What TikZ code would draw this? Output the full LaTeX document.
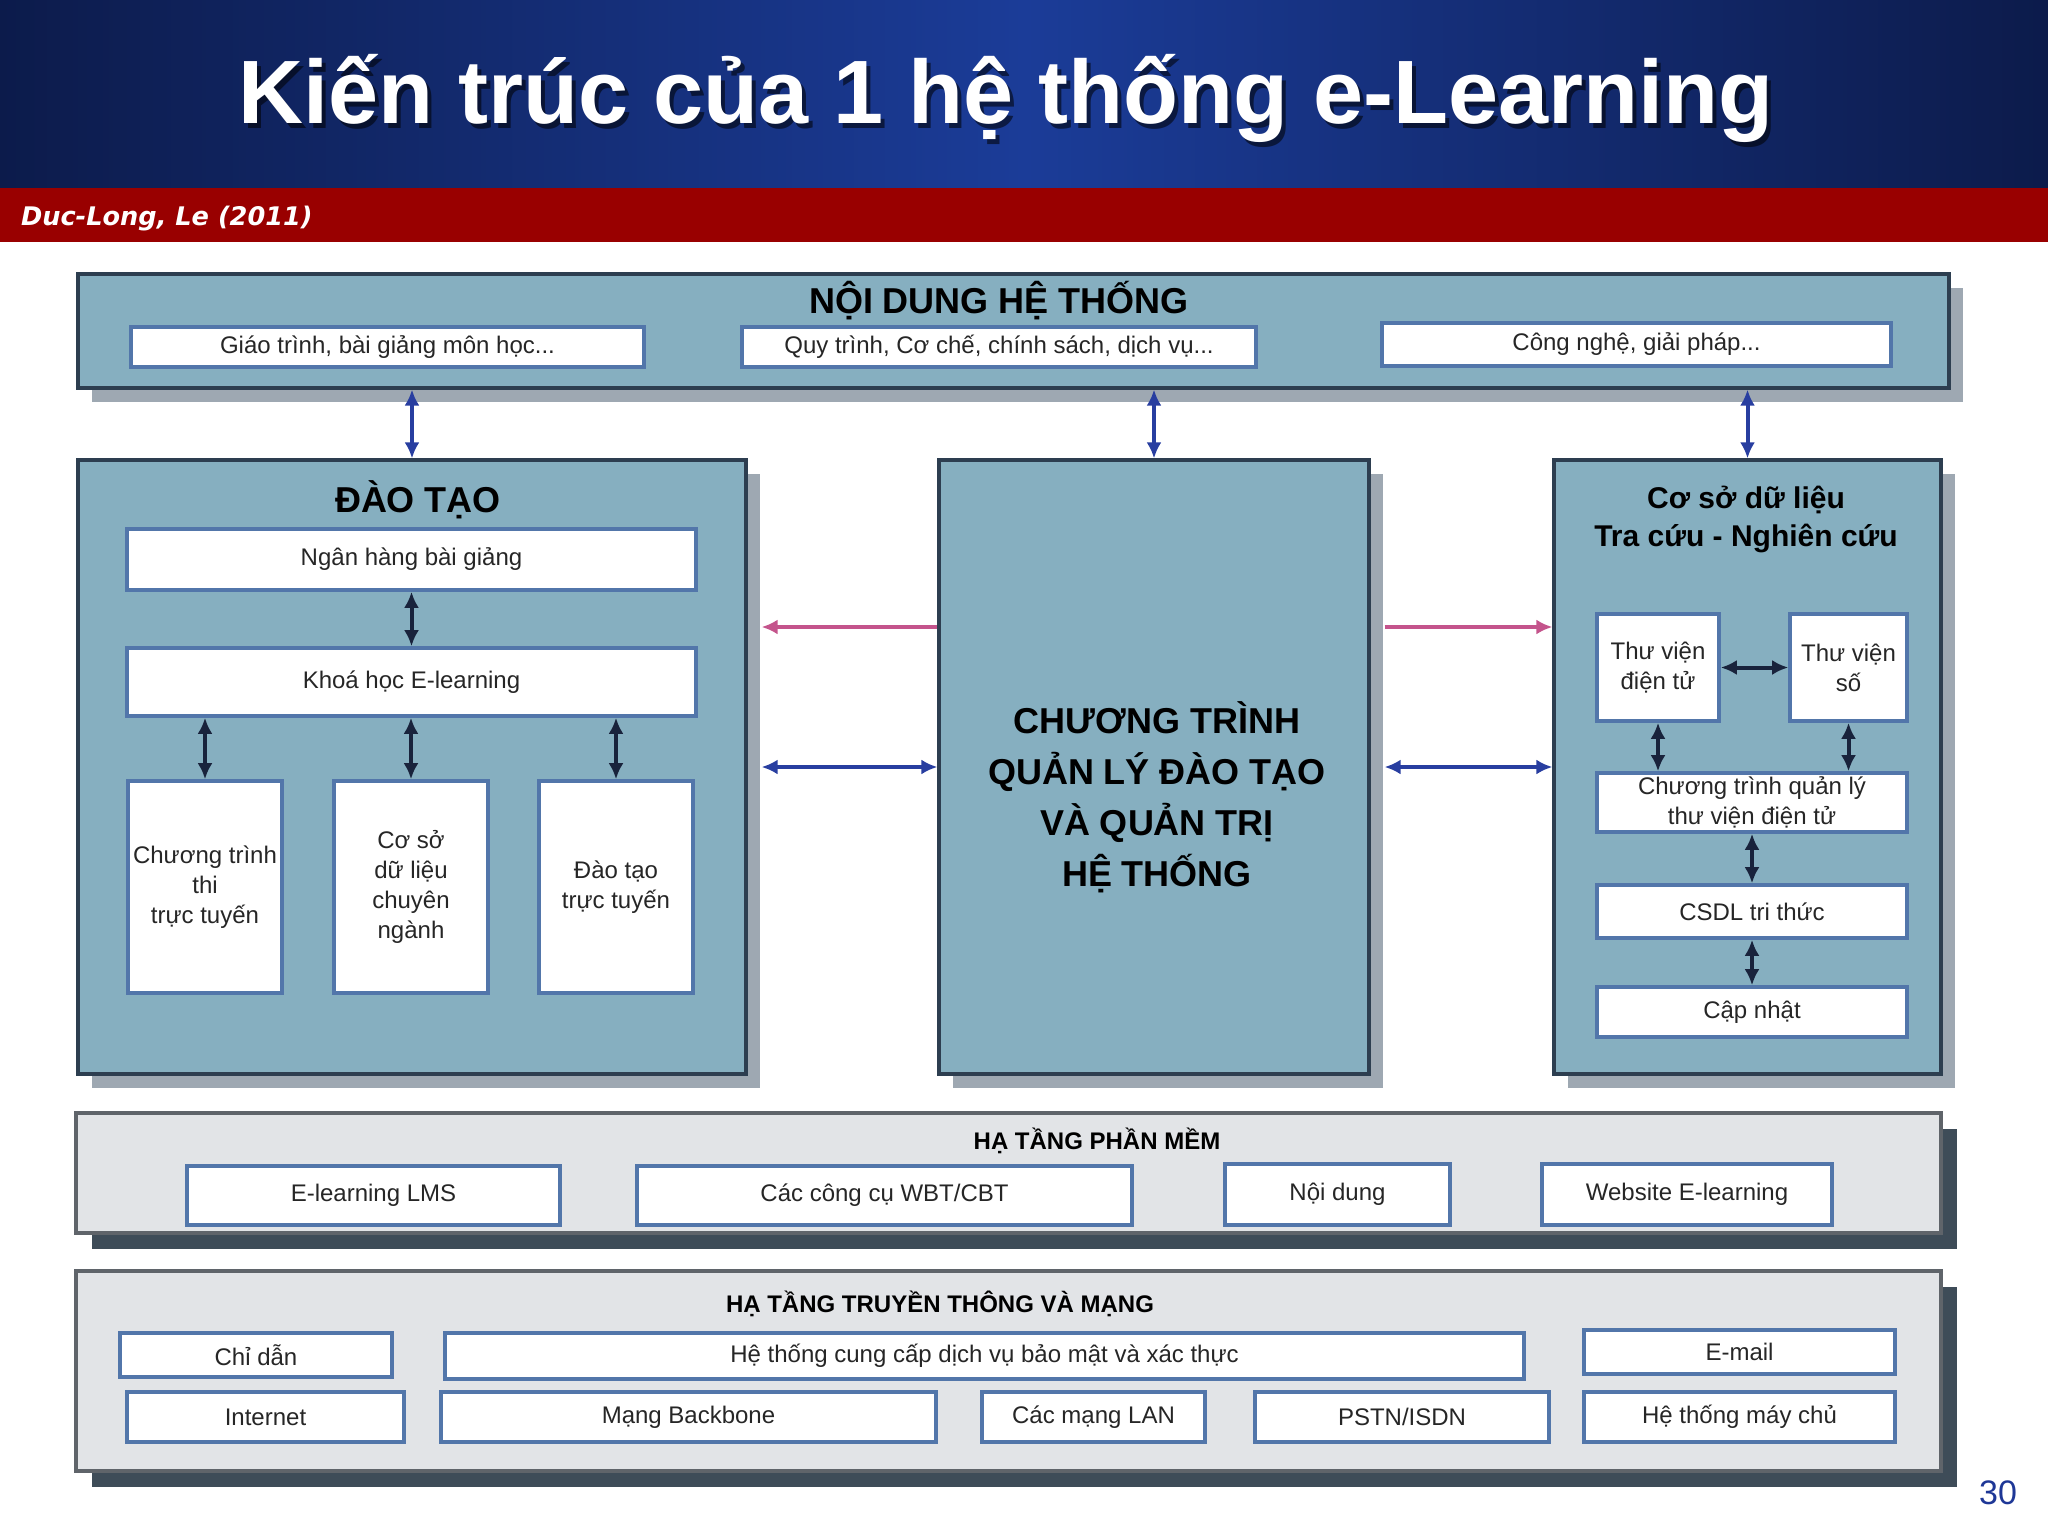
\documentclass[tikz,border=0pt]{standalone}
\usepackage{fontspec}
\setmainfont{Liberation Sans}
\newfontfamily\authfont{DejaVu Sans}
\usetikzlibrary{shadows,arrows.meta}
\definecolor{bandnavy}{RGB}{12,27,75}
\definecolor{bandblue}{RGB}{27,60,152}
\definecolor{bandred}{RGB}{153,0,0}
\definecolor{panelblue}{RGB}{134,175,192}
\definecolor{paneledge}{RGB}{45,62,80}
\definecolor{panelgrey}{RGB}{226,228,231}
\definecolor{greyedge}{RGB}{95,100,106}
\definecolor{softshadow}{RGB}{158,168,178}
\definecolor{darkshadow}{RGB}{62,76,88}
\definecolor{celledge}{RGB}{82,118,170}
\definecolor{linkblue}{RGB}{40,62,160}
\definecolor{linkpink}{RGB}{196,84,140}
\definecolor{linknavy}{RGB}{25,35,60}
\definecolor{pageblue}{RGB}{30,55,150}
\tikzset{
  spot/.style n args={4}{minimum width={(#3-#1)*0.5pt}, minimum height={(#4-#2)*0.5pt},
    at={({(#1+#3)/2},{(#2+#4)/2})}},
  panel/.style={draw=paneledge, line width=1.6pt, fill=panelblue, inner sep=0pt,
    drop shadow={shadow xshift=7pt, shadow yshift=-7pt, fill=softshadow, opacity=1}},
  layer/.style={draw=greyedge, line width=1.6pt, fill=panelgrey, inner sep=0pt,
    drop shadow={shadow xshift=8pt, shadow yshift=-8pt, fill=darkshadow, opacity=1}},
  cell/.style={draw=celledge, line width=1.8pt, fill=white, inner sep=0pt, text=black!85,
    font=\fontsize{12}{15}\selectfont, align=center},
  head/.style={font=\fontsize{18}{25.5}\selectfont\bfseries, align=center},
  subhead/.style={font=\fontsize{12}{15}\selectfont\bfseries},
  link/.style={line width=2pt, {Latex[length=8pt,width=7.5pt]}-{Latex[length=8pt,width=7.5pt]}},
  onelink/.style={line width=2pt, -{Latex[length=8pt,width=7.5pt]}}
}
\begin{document}
\begin{tikzpicture}[x=0.5pt, y=-0.5pt]
\useasboundingbox (0,0) rectangle (2048,1536);
% title band
\shade[left color=bandnavy, right color=bandnavy, middle color=bandblue] (0,0) rectangle (2048,188);
\fill[bandred] (0,188) rectangle (2048,242);
\node[anchor=base, black, opacity=.55, font=\fontsize{45}{54}\selectfont\bfseries] at (1010,128) {Kiến trúc của 1 hệ thống e-Learning};
\node[anchor=base, white, font=\fontsize{45}{54}\selectfont\bfseries] (title) at (1006,124) {Kiến trúc của 1 hệ thống e-Learning};
\node[anchor=base west, white, font=\authfont\bfseries\itshape\fontsize{12.8}{15}\selectfont] (src) at (14,225) {Duc-Long, Le (2011)};
\node[pageblue, font=\fontsize{17}{20}\selectfont] (pg) at (1998,1493) {30};

% noi dung he thong
\node[panel, spot={78}{274}{1949}{388}] (nd) {};
\node[head] (ndtitle) at (999,301) {NỘI DUNG HỆ THỐNG};
\foreach \nm/\xa/\ya/\xb/\yb/\txt in {gt/131/327/644/367/{Giáo trình, bài giảng môn học...},
  qt/742/327/1256/367/{Quy trình, Cơ chế, chính sách, dịch vụ...}, cn/1382/323/1891/366/{Công nghệ, giải pháp...}}
  \node[cell, spot={\xa}{\ya}{\xb}{\yb}] (\nm) {\txt};

% dao tao
\node[panel, spot={78}{460}{746}{1074}] (dt) {};
\node[head] (dttitle) at (418,500) {ĐÀO TẠO};
\node[cell, spot={127}{529}{696}{590}] (ngan) {Ngân hàng bài giảng};
\node[cell, spot={127}{648}{696}{716}] (khoa) {Khoá học E-learning};
\node[cell, spot={128}{781}{282}{993}] (thi) {Chương trình\\thi\\trực tuyến};
\node[cell, spot={334}{781}{488}{993}] (csn) {Cơ sở\\dữ liệu\\chuyên\\ngành};
\node[cell, spot={539}{781}{693}{993}] (dttt) {Đào tạo\\trực tuyến};

% quan ly
\node[panel, spot={939}{460}{1369}{1074}] (ct) {};
\node[head] (cttitle) at (1157,797) {CHƯƠNG TRÌNH\\QUẢN LÝ ĐÀO TẠO\\VÀ QUẢN TRỊ\\HỆ THỐNG};

% co so du lieu
\node[panel, spot={1554}{460}{1941}{1074}] (cs) {};
\node[font=\fontsize{15}{19}\selectfont\bfseries, align=center] (cstitle) at (1746,519) {Cơ sở dữ liệu\\Tra cứu - Nghiên cứu};
\node[cell, spot={1597}{614}{1719}{721}] (tvdt) {Thư viện\\điện tử};
\node[cell, spot={1790}{614}{1907}{721}] (tvso) {Thư viện\\số};
\node[cell, spot={1597}{773}{1907}{832}] (qltv) {Chương trình quản lý\\thư viện điện tử};
\node[cell, spot={1597}{885}{1907}{938}] (tthuc) {CSDL tri thức};
\node[cell, spot={1597}{987}{1907}{1037}] (capn) {Cập nhật};

% ha tang phan mem
\node[layer, spot={76}{1113}{1941}{1233}] (pm) {};
\node[subhead] (pmtitle) at (1097,1141) {HẠ TẦNG PHẦN MỀM};
\foreach \nm/\xa/\ya/\xb/\yb/\txt in {lms/187/1166/560/1225/E-learning LMS, wbt/637/1166/1132/1225/{Các công cụ WBT/CBT},
  ndg/1225/1164/1450/1225/Nội dung, web/1542/1164/1832/1225/Website E-learning}
  \node[cell, spot={\xa}{\ya}{\xb}{\yb}] (\nm) {\txt};

% ha tang truyen thong
\node[layer, spot={76}{1271}{1941}{1471}] (tt) {};
\node[subhead] (tttitle) at (940,1304) {HẠ TẦNG TRUYỀN THÔNG VÀ MẠNG};
\foreach \nm/\xa/\ya/\xb/\yb/\txt in {cd/120/1333/392/1377/Chỉ dẫn, bm/445/1333/1524/1379/Hệ thống cung cấp dịch vụ bảo mật và xác thực,
  em/1584/1330/1895/1374/E-mail, inet/127/1392/404/1442/Internet, bb/441/1392/936/1442/Mạng Backbone,
  lan/982/1392/1205/1442/Các mạng LAN, ps/1255/1392/1549/1442/{PSTN/ISDN}, mc/1584/1392/1895/1442/Hệ thống máy chủ}
  \node[cell, spot={\xa}{\ya}{\xb}{\yb}] (\nm) {\txt};

% connectors
\coordinate (pinkrow) at (0,627);
\coordinate (bluerow) at (0,767);
\foreach \b in {dt,ct,cs} \draw[link, linkblue] (nd.south -| \b.north) -- (\b.north);
\draw[onelink, linkpink] (ct.west |- pinkrow) -- ([xshift=7pt]dt.east |- pinkrow);
\draw[onelink, linkpink] ([xshift=7pt]ct.east |- pinkrow) -- (cs.west |- pinkrow);
\draw[link, linkblue] ([xshift=7pt]dt.east |- bluerow) -- (ct.west |- bluerow);
\draw[link, linkblue] ([xshift=7pt]ct.east |- bluerow) -- (cs.west |- bluerow);
\draw[link, linknavy] (ngan) -- (khoa);
\foreach \b in {thi,csn,dttt} \draw[link, linknavy] (khoa.south -| \b.north) -- (\b.north);
\draw[link, linknavy] (tvdt) -- (tvso);
\draw[link, linknavy] (tvdt) -- (tvdt |- qltv.north);
\draw[link, linknavy] (tvso) -- (tvso |- qltv.north);
\draw[link, linknavy] (qltv) -- (tthuc);
\draw[link, linknavy] (tthuc) -- (capn);
\end{tikzpicture}
\end{document}
